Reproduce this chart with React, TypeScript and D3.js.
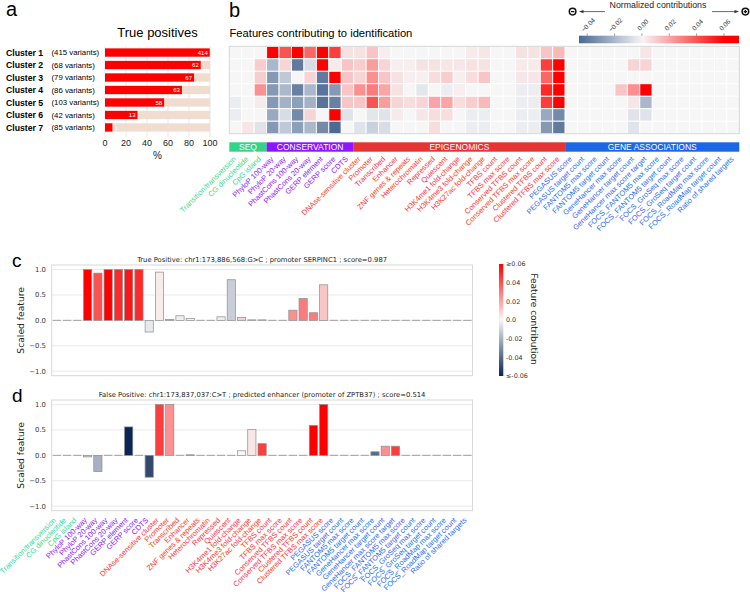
import React from "react";
import * as d3 from "d3";

// ---------------- DATA ----------------
const clusterNames = ["Cluster 1", "Cluster 2", "Cluster 3", "Cluster 4", "Cluster 5", "Cluster 6", "Cluster 7"];
const clusterTotals = [415, 68, 79, 86, 103, 42, 85];
const clusterTruePositives = [414, 62, 67, 63, 58, 13, 6];
const percentTicks = [0, 20, 40, 60, 80, 100];

const groupNames = ["SEQ", "CONSERVATION", "EPIGENOMICS", "GENE ASSOCIATIONS"];
const groupSizes = [3, 7, 17, 14];

const featureNames = [
  "Transition/transversion", "CG dinucleotide", "CpG island",
  "PhyloP 100-way", "PhyloP 20-way", "PhastCons 100-way", "PhastCons 20-way", "GERP element", "GERP score", "CDTS",
  "DNAse-sensitive cluster", "Promoter", "Transcribed", "Enhancer", "ZNF genes & repeats", "Heterochromatin",
  "Repressed", "Quiescent", "H3K4me1 fold-change", "H3K4me3 fold-change", "H3K27ac fold-change", "TFBS count",
  "TFBS max score", "Conserved TFBS count", "Conserved TFBS max score", "Clustered TFBS count", "Clustered TFBS max score",
  "PEGASUS score", "PEGASUS target count", "FANTOM5 max score", "FANTOM5 target count", "GeneHancer max score",
  "GeneHancer target count", "GeneHancer max score target", "FOCS_FANTOM5 max score", "FOCS_FANTOM5 target count",
  "FOCS_GroSeq max score", "FOCS_GroSeq target count", "FOCS_RoadMap max score", "FOCS_RoadMap target count",
  "Ratio of shared targets",
];

// normalized contributions, one row per cluster
const heatCluster1 = [0, 0, 0, 0.065, 0.04, 0.065, 0.035, 0.065, 0.045, 0.005, 0.005, 0.012, 0.002, 0, 0, 0, 0, 0, 0, 0.003, 0.004, 0, 0, 0.005, 0.005, 0.012, 0.015, 0, 0, 0, 0, 0, 0, 0.004, 0, 0, 0, 0, 0, 0, 0];
const heatCluster2 = [0, 0, 0.01, -0.02, 0.008, -0.04, -0.008, 0.065, 0.003, 0.012, 0.01, 0.022, 0.008, 0.002, 0.002, 0.005, 0.005, 0.004, 0.004, 0.005, 0.005, 0, 0, 0.003, 0.003, 0.045, 0.065, 0, 0, 0, 0, 0, 0.008, 0.008, 0, 0, 0, 0, 0, 0, 0];
const heatCluster3 = [0, 0, 0.01, -0.03, -0.015, 0, 0.008, -0.04, 0.065, 0.012, 0.008, 0.025, 0.012, 0.005, 0.002, 0.002, 0.006, 0.01, 0.002, 0.006, 0.012, 0, 0, 0.004, 0.004, 0.035, 0.065, 0, 0, 0, 0, 0, 0, 0, 0, 0, 0, 0, 0, 0, 0];
const heatCluster4 = [0, 0, 0.025, -0.03, -0.02, -0.038, -0.02, -0.042, -0.03, 0.012, 0.025, 0.03, 0.02, 0.005, 0, -0.005, 0, -0.003, 0.002, 0, 0, 0, 0, -0.003, -0.003, 0.05, 0.065, 0, 0, 0, 0, 0.012, 0.025, 0.065, 0, 0, 0, 0, 0, 0, 0];
const heatCluster5 = [-0.003, 0, 0.003, -0.03, -0.022, -0.028, -0.022, -0.042, -0.038, 0.012, 0.012, 0.04, 0.022, 0.008, 0.006, 0.008, 0.02, 0.02, 0.006, 0.01, 0.015, 0, 0, -0.003, -0.003, 0.045, 0.065, 0, 0, 0, 0, 0, 0.004, -0.02, 0, 0, 0, 0, 0, 0, 0];
const heatCluster6 = [-0.003, 0, 0, -0.025, -0.008, -0.035, 0.008, 0, 0.065, -0.006, 0, -0.005, -0.006, 0.003, 0, 0.004, 0.006, 0.006, 0, -0.003, -0.003, 0, 0, -0.003, -0.003, -0.025, -0.035, 0, 0, 0, 0, 0, -0.006, -0.006, 0, 0, 0, 0, 0, 0, 0];
const heatCluster7 = [0, 0.004, -0.006, -0.03, -0.015, -0.028, -0.02, -0.035, -0.045, 0, -0.006, -0.012, -0.008, 0, 0, 0, 0.006, 0, 0, -0.003, -0.003, 0, 0, -0.003, -0.003, -0.03, -0.04, 0, 0, 0, 0, 0, -0.006, 0, 0, 0, 0, 0, 0, 0, 0];
const heatRows = [heatCluster1, heatCluster2, heatCluster3, heatCluster4, heatCluster5, heatCluster6, heatCluster7];
const heatTicks = [-0.04, -0.02, 0, 0.02, 0.04, 0.06];

// panel c : true positive
const tpScaled = [0, 0, 0, 1, 0.93, 1, 1, 1, 1, -0.23, 0.95, 0.02, 0.09, 0.04, 0, 0, 0.07, 0.8, 0.06, 0.01, 0.01, 0, 0, 0.2, 0.43, 0.15, 0.7, 0, 0, 0, 0, 0, 0, 0, 0, 0, 0, 0, 0, 0, 0];
const tpContrib = [0, 0, 0, 0.06, 0.04, 0.06, 0.05, 0.055, 0.05, -0.004, 0.003, 0.015, -0.002, -0.002, 0, 0, -0.003, -0.012, 0.01, 0.01, 0.01, 0, 0, 0.025, 0.03, 0.03, 0.012, 0, 0, 0, 0, 0, 0, 0, 0, 0, 0, 0, 0, 0, 0];
// panel d : false positive
const fpScaled = [0, 0, 0, -0.03, -0.32, 0, 0, 0.56, 0, -0.43, 1, 1, 0, 0.01, 0, 0, 0, 0, 0.09, 0.51, 0.23, 0, 0, 0, 0, 0.59, 1, 0, 0, 0, 0, 0.07, 0.18, 0.18, 0, 0, 0, 0, 0, 0, 0];
const fpContrib = [0, 0, 0, -0.01, -0.02, 0, 0, -0.06, 0, -0.05, 0.045, 0.025, 0, -0.04, 0, 0, 0, 0, 0, 0.004, 0.045, 0, 0, 0, 0, 0.06, 0.06, 0, 0, 0, 0, -0.04, 0.025, 0.045, 0, 0, 0, 0, 0, 0, 0];
const scaledTicks = [-1, -0.5, 0, 0.5, 1];
const contribTicks = [0.06, 0.04, 0.02, 0, -0.02, -0.04, -0.06];
const contribTickLabels = ["≥0.06", "0.04", "0.02", "0.0", "-0.02", "-0.04", "≤-0.06"];

const tpTitle = "True Positive: chr1:173,886,568:G>C ; promoter SERPINC1 ; score=0.987";
const fpTitle = "False Positive: chr1:173,837,037:C>T ; predicted enhancer (promoter of ZPTB37) ; score=0.514";

// ---------------- STYLE ----------------
const ARIAL = "'Liberation Sans', Arial, sans-serif";
const DEJAVU = "'DejaVu Sans', sans-serif";
const groupBarColors = ["#33d48a", "#8c16ff", "#e53434", "#1b67e6"];
const groupTextColors = ["#38d98f", "#8c16ff", "#ff3535", "#2c6cf2"];

const featureGroup: number[] = [];
groupSizes.forEach((n, g) => { for (let i = 0; i < n; i++) featureGroup.push(g); });

const heatColor = d3.scaleLinear<string>().domain([-0.046, 0, 0.06]).range(["#4a6891", "#f6f6f7", "#ff0000"]).clamp(true);
const barColor = d3.scaleLinear<string>().domain([-0.06, 0, 0.06]).range(["#0b2554", "#f7f7f7", "#ff0000"]).clamp(true);

const fmtMinus = (v: number, d: number) => (v < 0 ? "\u2212" : "") + Math.abs(v).toFixed(d);

function PanelA() {
  const x = d3.scaleLinear().domain([0, 100]).range([105, 210]);
  const y = d3.scaleBand<string>().domain(clusterNames).range([46.3, 133.7]).paddingInner(0.336).paddingOuter(0.168);
  return (
    <g>
      <text x={6} y={16} fontFamily={ARIAL} fontSize={20}>a</text>
      <text x={157.5} y={37} fontFamily={ARIAL} fontSize={13} textAnchor="middle">True positives</text>
      {percentTicks.map((t) => (
        <line key={t} x1={x(t)} x2={x(t)} y1={46} y2={137} stroke="#e2e2e2" strokeWidth={0.8} />
      ))}
      {clusterNames.map((c, i) => {
        const pct = (clusterTruePositives[i] / clusterTotals[i]) * 100;
        const yy = y(c)!;
        const bw = y.bandwidth();
        const cy = yy + bw / 2;
        const small = pct < 12;
        return (
          <g key={c}>
            <text x={6} y={cy + 3.1} fontFamily={ARIAL} fontSize={8.7} fontWeight="bold">{c}</text>
            <text x={51.5} y={cy + 2.8} fontFamily={ARIAL} fontSize={7.8}>({clusterTotals[i]} variants)</text>
            <rect x={x(0)} y={yy} width={x(100) - x(0)} height={bw} fill="#f1ddd0" />
            <rect x={x(0)} y={yy} width={x(pct) - x(0)} height={bw} fill="#ff0000" />
            <text x={small ? x(pct) + 1.8 : x(pct) - 2} y={cy + 2.1} fontFamily={ARIAL} fontSize={6}
              textAnchor={small ? "start" : "end"} fill="#ffffff">{clusterTruePositives[i]}</text>
          </g>
        );
      })}
      {percentTicks.map((t) => (
        <text key={t} x={x(t)} y={146} fontFamily={ARIAL} fontSize={9} textAnchor="middle" fill="#222">{t}</text>
      ))}
      <text x={157.5} y={159} fontFamily={ARIAL} fontSize={10} textAnchor="middle" fill="#222">%</text>
    </g>
  );
}

function PanelB() {
  const idx = d3.range(featureNames.length);
  const x = d3.scaleBand<number>().domain(idx).range([229.3, 739.3]);
  const y = d3.scaleBand<number>().domain(d3.range(heatRows.length)).range([46.3, 133.7]);
  const cb = d3.scaleLinear().domain([-0.046, 0.071]).range([579, 739]);
  const stops = d3.range(0, 1.0001, 0.05).map((t) => {
    const v = -0.046 + t * (0.071 + 0.046);
    return { off: t, col: heatColor(v) };
  });
  let start = 0;
  const groups = groupSizes.map((n, g) => {
    const x0 = x(start)!;
    const x1 = x(start + n - 1)! + x.bandwidth();
    start += n;
    return { g, x0, x1 };
  });
  return (
    <g>
      <defs>
        <linearGradient id="hmgrad" x1="0" x2="1" y1="0" y2="0">
          {stops.map((s, i) => <stop key={i} offset={s.off} stopColor={s.col} />)}
        </linearGradient>
      </defs>
      <text x={229} y={17} fontFamily={ARIAL} fontSize={20}>b</text>
      <text x={229.5} y={37} fontFamily={ARIAL} fontSize={11.2}>Features contributing to identification</text>

      {/* colour bar */}
      <text x={658} y={8} fontFamily={ARIAL} fontSize={8.8} textAnchor="middle" fill="#222">Normalized contributions</text>
      <line x1={605} x2={582} y1={11.6} y2={11.6} stroke="#444" strokeWidth={0.8} />
      <polygon points="579,11.6 583.5,9.9 583.5,13.3" fill="#333" />
      <circle cx={572.6} cy={11.6} r={3.3} fill="#fff" stroke="#111" strokeWidth={1.5} />
      <line x1={570.9} x2={574.3} y1={11.6} y2={11.6} stroke="#111" strokeWidth={1.3} />
      <line x1={712} x2={735} y1={11.6} y2={11.6} stroke="#444" strokeWidth={0.8} />
      <polygon points="739,11.6 734.5,9.9 734.5,13.3" fill="#333" />
      <circle cx={745.4} cy={11.6} r={3.3} fill="#fff" stroke="#111" strokeWidth={1.5} />
      <line x1={743.7} x2={747.1} y1={11.6} y2={11.6} stroke="#111" strokeWidth={1.3} />
      <line x1={745.4} x2={745.4} y1={9.9} y2={13.3} stroke="#111" strokeWidth={1.3} />
      <rect x={579} y={35.7} width={160} height={7.6} fill="url(#hmgrad)" />
      {heatTicks.map((t) => (
        <g key={t}>
          <line x1={cb(t)} x2={cb(t)} y1={33.5} y2={35.7} stroke="#555" strokeWidth={0.6} />
          <text transform={`translate(${cb(t) + 2.5},${26.5}) rotate(-45)`} fontFamily={ARIAL} fontSize={6.5}
            textAnchor="middle" fill="#333">{fmtMinus(t, 2)}</text>
        </g>
      ))}

      {/* heatmap */}
      {heatRows.map((row, r) => row.map((v, c) => (
        <rect key={`${r}-${c}`} x={x(c)!} y={y(r)!} width={x.bandwidth()} height={y.bandwidth()}
          fill={heatColor(v)} stroke="#ffffff" strokeWidth={0.9} />
      )))}
      <rect x={229.3} y={46.3} width={510} height={87.4} fill="none" stroke="#d6d6d6" strokeWidth={1} />

      {/* group bar */}
      {groups.map(({ g, x0, x1 }) => (
        <g key={g}>
          <rect x={x0} y={142.3} width={x1 - x0} height={9.4} fill={groupBarColors[g]} />
          <text x={(x0 + x1) / 2} y={150.2} fontFamily={ARIAL} fontSize={8.5} textAnchor="middle" fill="#fff">{groupNames[g]}</text>
        </g>
      ))}
      {featureNames.map((f, i) => (
        <text key={f} transform={`translate(${x(i)! + x.bandwidth() / 2 + 1},${159.5}) rotate(-45)`}
          fontFamily={ARIAL} fontSize={7.5} textAnchor="end" fill={groupTextColors[featureGroup[i]]}>{f}</text>
      ))}
    </g>
  );
}

function BarPanel({ values, contribs, top, title, letter, labels }: {
  values: number[]; contribs: number[]; top: number; title: string; letter: string; labels: boolean;
}) {
  const idx = d3.range(values.length);
  const left = 51.7, right = 472.5, h = 110.7;
  const x = d3.scaleBand<number>().domain(idx).range([left, right]).paddingInner(0.2).paddingOuter(0.1);
  const y = d3.scaleLinear().domain([-1.09, 1.09]).range([top + h, top]);
  const step = x.step();
  return (
    <g>
      <text x={12} y={top + 2} fontFamily={ARIAL} fontSize={19}>{letter}</text>
      <text x={(left + right) / 2} y={top - 3} fontFamily={DEJAVU} fontSize={6.8} textAnchor="middle" fill="#222">{title}</text>
      <rect x={left} y={top} width={right - left} height={h} fill="#fff" stroke="#d8d8d8" strokeWidth={1} />
      {scaledTicks.map((t) => (
        <g key={t}>
          <line x1={left} x2={right} y1={y(t)} y2={y(t)} stroke="#e6e6e6" strokeWidth={0.9} />
          <text x={46} y={y(t) + 2.4} fontFamily={DEJAVU} fontSize={6.9} textAnchor="end" fill="#333">{fmtMinus(t, 1)}</text>
        </g>
      ))}
      <text transform={`translate(24,${top + h / 2}) rotate(-90)`} fontFamily={DEJAVU} fontSize={9.2}
        textAnchor="middle" fill="#222">Scaled feature</text>
      {values.map((v, i) => {
        const x0 = x(i)!;
        const bw = x.bandwidth();
        const y0 = y(0), y1 = y(v);
        if (Math.abs(y1 - y0) < 0.4) {
          return <line key={i} x1={x0} x2={x0 + bw} y1={y0} y2={y0} stroke="#999" strokeWidth={0.9} />;
        }
        return (
          <rect key={i} x={x0} y={Math.min(y0, y1)} width={bw} height={Math.abs(y1 - y0)}
            fill={barColor(contribs[i])} stroke="#8d8d8d" strokeWidth={0.7} />
        );
      })}
      {labels && featureNames.map((f, i) => (
        <text key={f} transform={`translate(${left + step * (i + 0.5) - 0.3},${top + h + 10}) rotate(-45)`}
          fontFamily={ARIAL} fontSize={7.5} textAnchor="end" fill={groupTextColors[featureGroup[i]]}>{f}</text>
      ))}
    </g>
  );
}

function ContribBar() {
  const y = d3.scaleLinear().domain([-0.06, 0.06]).range([376, 264]);
  const stops = d3.range(0, 1.0001, 0.05).map((t) => ({ off: t, col: barColor(0.06 - t * 0.12) }));
  return (
    <g>
      <defs>
        <linearGradient id="cbgrad" x1="0" x2="0" y1="0" y2="1">
          {stops.map((s, i) => <stop key={i} offset={s.off} stopColor={s.col} />)}
        </linearGradient>
      </defs>
      <rect x={499} y={264} width={4.3} height={112} fill="url(#cbgrad)" />
      {contribTicks.map((t, i) => (
        <text key={t} x={506} y={y(t) + 2.3} fontFamily={DEJAVU} fontSize={6.4} fill="#333">{contribTickLabels[i]}</text>
      ))}
      <text transform="translate(530.5,319) rotate(90)" fontFamily={DEJAVU} fontSize={9} textAnchor="middle" fill="#222">Feature contribution</text>
    </g>
  );
}

export default function App() {
  return (
    <svg width={750} height={592} viewBox="0 0 750 592" style={{ position: "absolute", left: 0, top: 0, background: "#fff" }}>
      <rect x={0} y={0} width={750} height={592} fill="#fff" />
      <PanelA />
      <PanelB />
      <BarPanel values={tpScaled} contribs={tpContrib} top={265} title={tpTitle} letter="c" labels={false} />
      <BarPanel values={fpScaled} contribs={fpContrib} top={400} title={fpTitle} letter="d" labels={true} />
      <ContribBar />
    </svg>
  );
}
